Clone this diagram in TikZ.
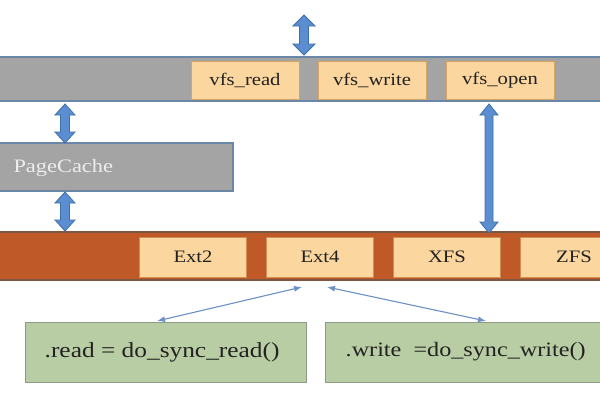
\documentclass[tikz,border=0pt]{standalone}
\usepackage{fontspec}
\setmainfont[FakeStretch=1.18]{Liberation Serif}
\usetikzlibrary{arrows.meta,calc}
\definecolor{barGray}{HTML}{A4A4A4}
\definecolor{barBorder}{HTML}{6A87A8}
\definecolor{vfsFill}{HTML}{FBD69E}
\definecolor{vfsBorder}{HTML}{D6A462}
\definecolor{rust}{HTML}{BF5A28}
\definecolor{rustBorder}{HTML}{7E5640}
\definecolor{greenFill}{HTML}{B9CDA4}
\definecolor{greenBorder}{HTML}{8E9A88}
\definecolor{arrowFill}{HTML}{5B8ED0}
\definecolor{arrowDraw}{HTML}{3F6FA8}
\definecolor{thinArrow}{HTML}{6C90C8}
\definecolor{txt}{HTML}{222222}
\tikzset{
  bar/.style={draw=barBorder, line width=1.4pt, minimum height=44pt, inner sep=0pt},
  vfsbox/.style={fill=vfsFill, draw=vfsBorder, line width=0.8pt, minimum width=108pt, minimum height=38pt, inner sep=0pt, text=txt, font=\fontsize{17.5}{19}\selectfont},
  extbox/.style={fill=vfsFill, draw=vfsBorder!70!rust, line width=0.6pt, minimum width=107pt, minimum height=40pt, inner sep=0pt, text=txt, font=\fontsize{17.5}{19}\selectfont},
  greenbox/.style={fill=greenFill, draw=greenBorder, line width=1pt, minimum height=60pt, inner sep=0pt},
  gtext/.style={anchor=west, inner sep=0pt, text=txt, font=\fontsize{21.5}{24}\selectfont},
  blockarrow/.style={fill=arrowFill, draw=arrowDraw, line width=0.8pt, line join=miter},
  thin/.style={draw=thinArrow, line width=1.1pt, {Latex[length=8pt,width=6pt]}-{Latex[length=8pt,width=6pt]}}
}
\newcommand{\barrow}[6]{%
  \filldraw[blockarrow] (#1,#2) -- (#1+#5,#2+#6) -- (#1+#4,#2+#6) -- (#1+#4,#3-#6) -- (#1+#5,#3-#6) -- (#1,#3) -- (#1-#5,#3-#6) -- (#1-#4,#3-#6) -- (#1-#4,#2+#6) -- (#1-#5,#2+#6) -- cycle;}
\begin{document}
\begin{tikzpicture}[x=1pt,y=-1pt]
\useasboundingbox (0,0) rectangle (600,400);
\clip (0,0) rectangle (600,400);
\fill[white] (0,0) rectangle (600,400);
% VFS bar
\node[bar, fill=barGray, minimum width=610pt] (vfsbar) at (300,79) {};
\node[vfsbox] (vread) at (245,80) {vfs\_read};
\node[vfsbox] (vwrite) at (372,80) {vfs\_write};
\node[vfsbox] (vopen) at (500,80) {vfs\_open};
% PageCache
\node[bar, fill=barGray, minimum width=237pt, minimum height=48pt] (pc) at (114.5,167) {};
\node[anchor=west, inner sep=0pt, text=white!93!black, font=\fontsize{19}{21}\selectfont] (pctext) at ([xshift=18pt,yshift=-1pt]pc.west) {PageCache};
% FS bar
\node[draw=rustBorder, fill=rust, line width=1.2pt, minimum width=610pt, minimum height=48pt, inner sep=0pt] (fsbar) at (300,256) {};
\node[extbox] (ext2) at (193,257) {Ext2};
\node[extbox] (ext4) at (320,257) {Ext4};
\node[extbox] (xfs) at (447,257) {XFS};
\node[extbox] (zfs) at (574,257) {ZFS};
% green boxes
\node[greenbox, minimum width=281pt] (gread) at (165.5,352) {};
\node[greenbox, minimum width=290pt] (gwrite) at (470,352) {};
\node[gtext] (tread) at ([xshift=20pt]gread.west) {.read = do\_sync\_read()};
\node[gtext, font=\fontsize{20.5}{23}\selectfont] (twrite) at ([xshift=21pt]gwrite.west) {.write\ \ =do\_sync\_write()};
% block arrows
\barrow{304}{15}{55}{4.5}{11}{11}
\barrow{65}{104}{143}{4.5}{10}{11}
\barrow{65}{192}{231}{4.5}{10}{11}
\barrow{489}{104}{233}{4}{9}{11}
% thin arrows
\coordinate (e4l) at (302,287);
\coordinate (e4r) at (327,287);
\coordinate (gr) at (157,321);
\coordinate (gw) at (486,321);
\draw[thin] (gr) -- (e4l);
\draw[thin] (e4r) -- (gw);
\end{tikzpicture}
\end{document}
